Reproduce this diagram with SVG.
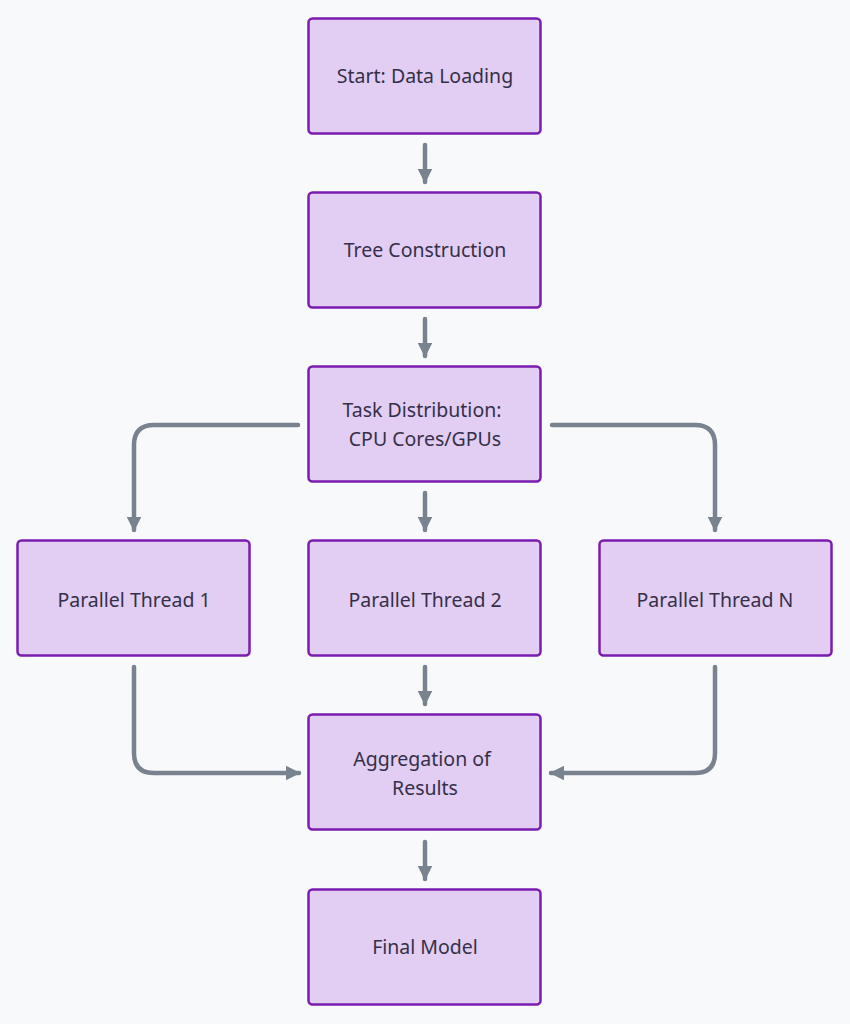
<svg xmlns="http://www.w3.org/2000/svg" width="850" height="1024" viewBox="0 0 850 1024">
<style>
.n{fill:#E2CDF3;stroke:#7A1CB0;stroke-width:2.5}
.t{font-family:"Noto Sans","Liberation Sans",sans-serif;font-size:19.5px;fill:#343048;text-anchor:middle}
.c{fill:none;stroke:#78838F;stroke-width:4.5;stroke-linecap:round;stroke-linejoin:round}
</style>
<defs>
<marker id="ah" viewBox="0 0 10 10" refX="9" refY="5" markerWidth="3.3" markerHeight="3.3" orient="auto" markerUnits="strokeWidth">
<path d="M0,0 L10,5 L0,10 Z" fill="#78838F"/>
</marker>
</defs>
<rect width="850" height="1024" fill="#F8F9FA"/>
<g id="connectors">
<path class="c" marker-end="url(#ah)" d="M425,145 L425,182"/>
<path class="c" marker-end="url(#ah)" d="M425,319 L425,356"/>
<path class="c" marker-end="url(#ah)" d="M298,425 L154,425 Q134,425 134,445 L134,530"/>
<path class="c" marker-end="url(#ah)" d="M425,493 L425,530"/>
<path class="c" marker-end="url(#ah)" d="M552,425 L695,425 Q715,425 715,445 L715,530"/>
<path class="c" marker-end="url(#ah)" d="M134,667 L134,753 Q134,773 154,773 L299,773"/>
<path class="c" marker-end="url(#ah)" d="M425,667 L425,704"/>
<path class="c" marker-end="url(#ah)" d="M715,667 L715,753 Q715,773 695,773 L551,773"/>
<path class="c" marker-end="url(#ah)" d="M425,842 L425,879"/>
</g>
<g id="n1"><rect class="n" x="308.5" y="18.5" width="232" height="115" rx="4"/><text class="t" x="425" y="83">Start: Data Loading</text></g>
<g id="n2"><rect class="n" x="308.5" y="192.5" width="232" height="115" rx="4"/><text class="t" x="425" y="257">Tree Construction</text></g>
<g id="n3"><rect class="n" x="308.5" y="366.5" width="232" height="115" rx="4"/><text class="t" x="422" y="417">Task Distribution:</text><text class="t" x="425" y="446">CPU Cores/GPUs</text></g>
<g id="n4"><rect class="n" x="17.5" y="540.5" width="232" height="115" rx="4"/><text class="t" x="134" y="607">Parallel Thread 1</text></g>
<g id="n5"><rect class="n" x="308.5" y="540.5" width="232" height="115" rx="4"/><text class="t" x="425" y="607">Parallel Thread 2</text></g>
<g id="n6"><rect class="n" x="599.5" y="540.5" width="232" height="115" rx="4"/><text class="t" x="715" y="607">Parallel Thread N</text></g>
<g id="n7"><rect class="n" x="308.5" y="714.5" width="232" height="115" rx="4"/><text class="t" x="422" y="766">Aggregation of</text><text class="t" x="425" y="795">Results</text></g>
<g id="n8"><rect class="n" x="308.5" y="889.5" width="232" height="115" rx="4"/><text class="t" x="425" y="954">Final Model</text></g>
</svg>
